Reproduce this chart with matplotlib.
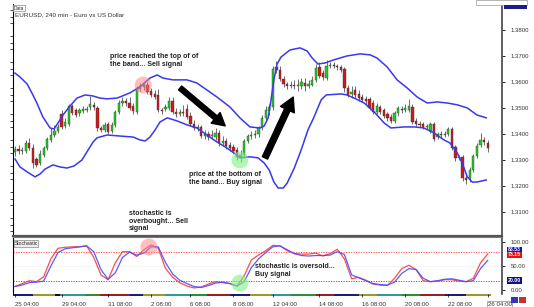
import numpy as np
import matplotlib
matplotlib.use("Agg")
import matplotlib.pyplot as plt
from matplotlib.patches import Rectangle
from matplotlib.ticker import MultipleLocator, FixedLocator

plt.rcParams['font.family'] = ['Liberation Sans', 'DejaVu Sans']

# ---- EURUSD 4h candles ----
opens = [1.3330, 1.3341, 1.3334, 1.3334, 1.3364, 1.3345, 1.3303, 1.3287, 1.3318, 1.3345,
         1.3376, 1.3395, 1.3411, 1.3476, 1.3430, 1.3437, 1.3507, 1.3491, 1.3480, 1.3487,
         1.3491, 1.3503, 1.3511, 1.3499, 1.3422, 1.3414, 1.3437, 1.3411, 1.3434, 1.3484,
         1.3518, 1.3526, 1.3518, 1.3507, 1.3484, 1.3572, 1.3580, 1.3587, 1.3564, 1.3553,
         1.3549, 1.3491, 1.3495, 1.3499, 1.3526, 1.3484, 1.3476, 1.3484, 1.3495, 1.3468,
         1.3437, 1.3422, 1.3426, 1.3391, 1.3399, 1.3391, 1.3387, 1.3403, 1.3364, 1.3372,
         1.3357, 1.3349, 1.3337, 1.3311, 1.3318, 1.3372, 1.3391, 1.3395, 1.3399, 1.3422,
         1.3461, 1.3487, 1.3503, 1.3657, 1.3645, 1.3610, 1.3591, 1.3584, 1.3587, 1.3584,
         1.3584, 1.3595, 1.3584, 1.3587, 1.3607, 1.3657, 1.3633, 1.3614, 1.3660, 1.3664,
         1.3660, 1.3657, 1.3649, 1.3576, 1.3553, 1.3568, 1.3553, 1.3541, 1.3534, 1.3534,
         1.3518, 1.3484, 1.3503, 1.3491, 1.3476, 1.3464, 1.3449, 1.3480, 1.3495, 1.3491,
         1.3491, 1.3503, 1.3449, 1.3437, 1.3437, 1.3426, 1.3411, 1.3437, 1.3387, 1.3399,
         1.3395, 1.3399, 1.3418, 1.3349, 1.3307, 1.3311, 1.3230, 1.3230, 1.3260, 1.3314,
         1.3357, 1.3376, 1.3364]
closes = [1.3341, 1.3334, 1.3337, 1.3364, 1.3345, 1.3287, 1.3280, 1.3322, 1.3345, 1.3380,
          1.3395, 1.3411, 1.3426, 1.3426, 1.3445, 1.3507, 1.3480, 1.3472, 1.3491, 1.3495,
          1.3495, 1.3514, 1.3503, 1.3422, 1.3414, 1.3434, 1.3407, 1.3434, 1.3484, 1.3518,
          1.3526, 1.3518, 1.3499, 1.3487, 1.3576, 1.3584, 1.3587, 1.3561, 1.3549, 1.3541,
          1.3491, 1.3487, 1.3503, 1.3526, 1.3484, 1.3476, 1.3484, 1.3480, 1.3464, 1.3437,
          1.3422, 1.3426, 1.3391, 1.3399, 1.3387, 1.3395, 1.3403, 1.3364, 1.3372, 1.3353,
          1.3345, 1.3334, 1.3311, 1.3318, 1.3372, 1.3391, 1.3395, 1.3399, 1.3422, 1.3461,
          1.3491, 1.3503, 1.3649, 1.3645, 1.3610, 1.3591, 1.3584, 1.3587, 1.3584, 1.3587,
          1.3599, 1.3584, 1.3591, 1.3607, 1.3653, 1.3622, 1.3618, 1.3660, 1.3664, 1.3660,
          1.3657, 1.3645, 1.3576, 1.3549, 1.3561, 1.3549, 1.3537, 1.3530, 1.3526, 1.3499,
          1.3484, 1.3507, 1.3484, 1.3468, 1.3461, 1.3449, 1.3480, 1.3499, 1.3491, 1.3499,
          1.3507, 1.3445, 1.3437, 1.3434, 1.3426, 1.3430, 1.3437, 1.3380, 1.3399, 1.3395,
          1.3399, 1.3418, 1.3345, 1.3307, 1.3311, 1.3230, 1.3222, 1.3260, 1.3314, 1.3353,
          1.3376, 1.3368, 1.3345]
highs = [1.3353, 1.3357, 1.3349, 1.3376, 1.3384, 1.3360, 1.3311, 1.3337, 1.3353, 1.3387,
         1.3422, 1.3434, 1.3437, 1.3491, 1.3461, 1.3514, 1.3514, 1.3499, 1.3499, 1.3507,
         1.3507, 1.3545, 1.3522, 1.3507, 1.3430, 1.3445, 1.3445, 1.3445, 1.3491, 1.3530,
         1.3541, 1.3537, 1.3541, 1.3518, 1.3584, 1.3595, 1.3595, 1.3599, 1.3576, 1.3568,
         1.3572, 1.3499, 1.3514, 1.3541, 1.3541, 1.3499, 1.3495, 1.3511, 1.3514, 1.3484,
         1.3453, 1.3437, 1.3434, 1.3414, 1.3411, 1.3414, 1.3422, 1.3414, 1.3391, 1.3384,
         1.3368, 1.3360, 1.3349, 1.3337, 1.3380, 1.3399, 1.3411, 1.3414, 1.3430, 1.3472,
         1.3507, 1.3514, 1.3660, 1.3680, 1.3660, 1.3622, 1.3599, 1.3603, 1.3607, 1.3610,
         1.3614, 1.3614, 1.3607, 1.3622, 1.3668, 1.3676, 1.3645, 1.3683, 1.3676, 1.3676,
         1.3668, 1.3664, 1.3657, 1.3587, 1.3584, 1.3584, 1.3568, 1.3553, 1.3545, 1.3541,
         1.3530, 1.3518, 1.3511, 1.3499, 1.3484, 1.3476, 1.3487, 1.3507, 1.3507, 1.3514,
         1.3534, 1.3514, 1.3461, 1.3449, 1.3445, 1.3437, 1.3445, 1.3445, 1.3407, 1.3411,
         1.3411, 1.3426, 1.3426, 1.3357, 1.3318, 1.3318, 1.3241, 1.3272, 1.3322, 1.3364,
         1.3403, 1.3387, 1.3376]
lows = [1.3314, 1.3322, 1.3322, 1.3326, 1.3337, 1.3268, 1.3272, 1.3280, 1.3311, 1.3337,
        1.3368, 1.3387, 1.3403, 1.3418, 1.3422, 1.3430, 1.3472, 1.3464, 1.3468, 1.3480,
        1.3484, 1.3491, 1.3491, 1.3411, 1.3407, 1.3407, 1.3399, 1.3403, 1.3426, 1.3476,
        1.3507, 1.3507, 1.3491, 1.3476, 1.3476, 1.3564, 1.3568, 1.3553, 1.3541, 1.3534,
        1.3484, 1.3476, 1.3487, 1.3491, 1.3476, 1.3464, 1.3468, 1.3468, 1.3457, 1.3430,
        1.3414, 1.3411, 1.3384, 1.3380, 1.3376, 1.3380, 1.3376, 1.3353, 1.3353, 1.3341,
        1.3334, 1.3326, 1.3299, 1.3291, 1.3307, 1.3364, 1.3380, 1.3384, 1.3387, 1.3414,
        1.3445, 1.3472, 1.3491, 1.3633, 1.3603, 1.3580, 1.3572, 1.3576, 1.3572, 1.3564,
        1.3572, 1.3564, 1.3576, 1.3584, 1.3599, 1.3614, 1.3607, 1.3607, 1.3653, 1.3653,
        1.3645, 1.3637, 1.3561, 1.3541, 1.3537, 1.3537, 1.3526, 1.3522, 1.3514, 1.3491,
        1.3476, 1.3476, 1.3476, 1.3461, 1.3449, 1.3441, 1.3441, 1.3468, 1.3480, 1.3484,
        1.3484, 1.3437, 1.3430, 1.3426, 1.3418, 1.3418, 1.3403, 1.3372, 1.3380, 1.3384,
        1.3387, 1.3391, 1.3337, 1.3295, 1.3299, 1.3218, 1.3207, 1.3214, 1.3253, 1.3307,
        1.3349, 1.3357, 1.3330]

# ---- Bollinger bands, read at these bar positions ----
upper_at = [0, 1.4, 3.4, 4.7, 6.1, 7.8, 9.8, 10.9, 12, 13.4, 15.4, 17.3, 19.6, 21.8, 23.7,
            25.7, 28.5, 30.7, 32.1, 34.9, 37.7, 39.7, 41.3, 44.1, 48, 50.8, 53.6, 56.4, 60,
            62.8, 65.6, 68.4, 69.6, 70.7, 71.5, 72.3, 73.2, 74.3, 76.8, 79.6, 81.6, 83, 84.6,
            86.6, 88.8, 92.7, 96.4, 99.2, 101.1, 103.9, 106.7, 109.5, 112.3, 115.1, 117.9,
            120.7, 123.5, 126.3, 129, 131.6]
upper_band = [1.3633, 1.3618, 1.3591, 1.3557, 1.3518, 1.3464, 1.3422, 1.3418, 1.3441, 1.3472,
              1.3507, 1.3537, 1.3549, 1.3545, 1.3537, 1.3534, 1.3537, 1.3549, 1.3557, 1.3580,
              1.3614, 1.3626, 1.3614, 1.3607, 1.3607, 1.3595, 1.3568, 1.3541, 1.3503, 1.3461,
              1.3426, 1.3422, 1.3430, 1.3461, 1.3530, 1.3607, 1.3668, 1.3695, 1.3722, 1.3730,
              1.3718, 1.3691, 1.3668, 1.3672, 1.3683, 1.3699, 1.3707, 1.3703, 1.3691, 1.3657,
              1.3607, 1.3576, 1.3541, 1.3518, 1.3522, 1.3518, 1.3511, 1.3499, 1.3472, 1.3461]
lower_at = [0, 1.4, 3.4, 5.6, 7, 8.4, 10.6, 12.6, 14.5, 16.5, 18.7, 20.4, 21.8, 22.9, 25.7,
            29.3, 33, 34.9, 36.3, 37.7, 39.1, 40.5, 42.5, 45.3, 48, 50.8, 53.6, 56.4, 59.2,
            61.5, 62.8, 65.6, 67.9, 69.6, 71, 72.3, 73.5, 74.9, 76, 78, 79.9, 81.8, 83.5,
            85.5, 86.9, 91.1, 92.7, 94.7, 97.5, 100.3, 103.1, 105, 108.7, 111.5, 114.2, 117,
            119.8, 121.5, 123.5, 124.9, 126.3, 127.7, 129, 131.6]
lower_band = [1.3303, 1.3272, 1.3253, 1.3234, 1.3245, 1.3264, 1.3280, 1.3272, 1.3268, 1.3276,
              1.3299, 1.3337, 1.3368, 1.3384, 1.3395, 1.3391, 1.3387, 1.3376, 1.3372, 1.3387,
              1.3414, 1.3445, 1.3461, 1.3449, 1.3434, 1.3422, 1.3395, 1.3368, 1.3345, 1.3322,
              1.3307, 1.3311, 1.3307, 1.3287, 1.3260, 1.3214, 1.3191, 1.3191, 1.3210, 1.3268,
              1.3337, 1.3414, 1.3464, 1.3530, 1.3549, 1.3553, 1.3549, 1.3537, 1.3518, 1.3484,
              1.3441, 1.3422, 1.3426, 1.3426, 1.3422, 1.3403, 1.3376, 1.3364, 1.3326, 1.3287,
              1.3234, 1.3214, 1.3214, 1.3222]

# ---- Stochastic, read every second bar ----
stoch_at = list(range(0, 133, 2))
stoch_k = [8, 14, 20, 18, 28, 65, 87, 89, 90, 90, 92, 68, 32, 22, 57, 80, 80, 70, 84, 94,
           87, 46, 27, 16, 9, 5, 7, 13, 18, 16, 14, 9, 30, 63, 73, 82, 93, 92, 82, 76,
           75, 75, 77, 71, 76, 85, 65, 24, 27, 21, 13, 11, 10, 25, 45, 52, 43, 20, 18, 19,
           22, 22, 19, 18, 25, 57, 75]
stoch_d = [8, 11, 16, 17, 19, 50, 78, 86, 88, 90, 92, 80, 43, 23, 36, 68, 79, 73, 77, 90,
           90, 58, 34, 21, 14, 8, 6, 10, 15, 17, 14, 9, 18, 47, 65, 78, 90, 92, 84, 76,
           72, 71, 72, 72, 73, 80, 74, 32, 26, 20, 14, 12, 11, 17, 35, 45, 43, 25, 18, 20,
           23, 24, 21, 18, 20, 45, 62]

time_at = [0, 13, 26, 38, 49, 61, 72, 85, 97, 109, 121, 132]
time_labels = ["25 04:00", "29 04:00", "31 08:00", "2 08:00", "6 08:00", "8 08:00",
               "12 04:00", "14 08:00", "16 08:00", "20 08:00", "22 08:00", "26 04:00"]
price_ticks = [1.31, 1.32, 1.33, 1.34, 1.35, 1.36, 1.37, 1.38]

# day colour strip under the stochastic pane (start, end, colour)
day_strip = [(-0.5, 5, '#1c1c7a'), (5, 11.2, '#9a9a30'), (11.2, 12.6, '#111111'),
             (12.6, 19.6, '#2f9a9a'), (19.6, 23.7, '#2f8f2f'), (23.7, 32.1, '#9a2020'),
             (32.1, 35.8, '#1c1c7a'), (35.8, 42, '#9a9a30'), (42, 49, '#2f9a9a'),
             (49, 53.6, '#2f8f2f'), (53.6, 60, '#9a2020'), (60, 65.6, '#1c1c7a'),
             (65.6, 71.5, '#9a9a30'), (71.5, 77, '#2f9a9a'), (77, 84, '#2f8f2f'),
             (84, 89, '#9a2020'), (89, 96, '#1c1c7a'), (96, 101, '#9a9a30'),
             (101, 108, '#2f9a9a'), (108, 113, '#2f8f2f'), (113, 120, '#9a2020'),
             (120, 126, '#1c1c7a'), (126, 133, '#9a9a30')]

W, H = 534, 307


def fx(px):
    return px / W


def fy(py):
    return 1 - py / H


fig = plt.figure(figsize=(W / 100, H / 100), dpi=100)
ax = fig.add_axes([fx(13), fy(236), 489 / W, 232 / H])
ax2 = fig.add_axes([fx(13), fy(294), 489 / W, 57 / H])

# ---------------- main pane ----------------
o = np.array(opens)
c = np.array(closes)
hi = np.array(highs)
lo = np.array(lows)
x = np.arange(len(c))
body = c - o
body = np.where(np.abs(body) < 0.00008, 0.00008, body)
cols = np.where(c >= o, '#19d419', '#d01818')

ax.vlines(x, lo, hi, color='#555555', lw=0.6, zorder=2)
ax.bar(x, body, bottom=o, width=0.64, color=cols, edgecolor='#3a3a3a', linewidth=0.3, zorder=3)
ax.plot(upper_at, upper_band, color='#3838f0', lw=1.1, zorder=4)
ax.plot(lower_at, lower_band, color='#3838f0', lw=1.1, zorder=4)

ax.scatter([35.8], [1.3587], s=150, color='#ff8080', alpha=0.5, edgecolors='none', zorder=5)
ax.scatter([62.8], [1.3299], s=150, color='#80f080', alpha=0.6, edgecolors='none', zorder=5)

# arrows
ax.annotate('', xy=(58.7, 1.3430), xytext=(46.1, 1.3576),
            arrowprops=dict(facecolor='black', edgecolor='black', width=3.6, headwidth=10, headlength=9))
ax.annotate('', xy=(77.7, 1.3541), xytext=(69.8, 1.3307),
            arrowprops=dict(facecolor='black', edgecolor='black', width=4.2, headwidth=11, headlength=10))

ax.set_xlim(-0.56, 136.0)
ax.set_ylim(1.30065, 1.38988)
ax.set_xticks([])
ax.yaxis.set_major_locator(FixedLocator(price_ticks))
ax.yaxis.set_major_formatter(plt.FormatStrFormatter('%.4f'))
ax.yaxis.set_minor_locator(MultipleLocator(0.0025))
ax.tick_params(axis='y', which='major', left=False, right=True, labelleft=False, labelright=True,
               labelsize=4.3, length=2, width=0.6, pad=4, labelcolor='#333333')
ax.tick_params(axis='y', which='minor', left=True, right=False, length=2, width=0.5)
ax.spines['top'].set_visible(False)
ax.spines['left'].set_linewidth(0.8)
ax.spines['right'].set_color('#444444')
ax.spines['right'].set_linewidth(1.2)
ax.spines['bottom'].set_color('#555555')
ax.spines['bottom'].set_linewidth(1.6)

# ---------------- stochastic pane ----------------
ax2.plot(stoch_at, stoch_k, color='#ff3a3a', lw=0.9, alpha=0.9, zorder=3)
ax2.plot(stoch_at, stoch_d, color='#4a4aff', lw=0.9, alpha=0.9, zorder=3)
ax2.axhline(80, color='#ff4040', lw=0.6, ls=(0, (1.5, 1.5)))
ax2.axhline(20, color='#4040ff', lw=0.6, ls=(0, (1.5, 1.5)))
ax2.axhline(50, color='#cccccc', lw=0.4, ls=(0, (1, 2)))
ax2.scatter([37.4], [89.6], s=150, color='#ff8080', alpha=0.5, edgecolors='none', zorder=5)
ax2.scatter([62.8], [15], s=150, color='#80f080', alpha=0.6, edgecolors='none', zorder=5)

for a, b, col in day_strip:
    ax2.add_patch(Rectangle((a, -0.04), b - a, 0.04, transform=ax2.get_xaxis_transform(),
                            color=col, clip_on=False, lw=0))

ax2.set_xlim(-0.56, 136.0)
ax2.set_ylim(-7.5, 110.3)
ax2.set_yticks([0, 50, 100])
ax2.set_yticklabels(['0.00', '50.00', '100.00'])
ax2.tick_params(axis='y', left=False, right=True, labelleft=False, labelright=True,
                labelsize=4.3, length=2, width=0.6, pad=4, labelcolor='#333333')
ax2.set_xticks(time_at)
ax2.set_xticklabels(time_labels, ha='left')
ax2.tick_params(axis='x', labelsize=4.4, length=2.5, width=0.5, pad=3, labelcolor='#333333')
ax2.spines['top'].set_color('#777777')
ax2.spines['top'].set_linewidth(0.8)
ax2.spines['right'].set_color('#444444')
ax2.spines['right'].set_linewidth(1.2)
ax2.spines['bottom'].set_visible(False)
ax2.xaxis.get_ticklabels()[-1].set_bbox(dict(boxstyle='square,pad=0.15', fc='white', ec='#888888', lw=0.5))

ytr = ax2.get_yaxis_transform()
for val, txt, fc in [(83.53, '83.53', '#1010d0'), (73.15, '73.15', '#ee1010'), (20.0, '20.00', '#10108a')]:
    ax2.text(1.012, val, txt, transform=ytr, fontsize=3.7, color='white', va='center', ha='left',
             fontweight='bold', bbox=dict(boxstyle='square,pad=0.15', fc=fc, ec='none'))

ax2.text(0.003, 0.93, 'Stochastic', transform=ax2.transAxes, fontsize=3.6, va='top', ha='left',
         color='#222222', bbox=dict(boxstyle='square,pad=0.15', fc='#eeeeee', ec='#888888', lw=0.5))

# ---------------- texts ----------------
fig.text(fx(14), fy(8), 'Data', fontsize=3.5, va='center', ha='left', color='#222222',
         bbox=dict(boxstyle='square,pad=0.15', fc='white', ec='#888888', lw=0.5))
fig.text(fx(15), fy(15), 'EURUSD, 240 min - Euro vs US Dollar', fontsize=4.6, va='center',
         ha='left', color='#333333')

note = dict(fontsize=5.0, fontweight='bold', color='#222222', va='top', ha='left', linespacing=1.15)
fig.text(fx(110), fy(53), 'price reached the top of of\nthe band... Sell signal', **note)
fig.text(fx(189), fy(171), 'price at the bottom of\nthe band... Buy signal', **note)
fig.text(fx(129), fy(210), 'stochastic is\noverbought... Sell\nsignal', **note)
fig.text(fx(255), fy(263), 'stochastic is oversold...\nBuy signal', **note)

# top-right data box and bottom-right buttons
fig.add_artist(Rectangle((fx(476), fy(5)), 51 / W, 5 / H, transform=fig.transFigure,
                         fc='white', ec='#999999', lw=0.5))
fig.add_artist(Rectangle((fx(504), fy(9)), 23 / W, 4 / H, transform=fig.transFigure,
                         fc='#1c1c8a', ec='none'))
fig.add_artist(Rectangle((fx(511), fy(303)), 7 / W, 6 / H, transform=fig.transFigure,
                         fc='#3434c0', ec='none'))
fig.add_artist(Rectangle((fx(519), fy(303)), 7 / W, 6 / H, transform=fig.transFigure,
                         fc='#c03434', ec='none'))

fig.savefig('out.png', dpi=100)
